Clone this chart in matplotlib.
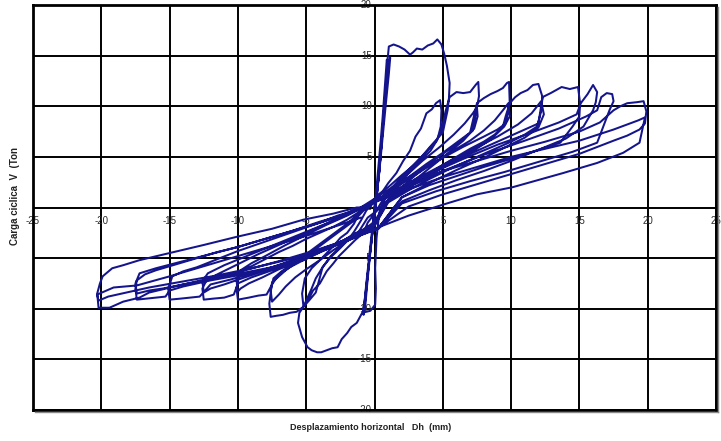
import matplotlib
matplotlib.use("Agg")
import matplotlib.pyplot as plt
from matplotlib.lines import Line2D

plt.rcParams['font.family'] = ['Liberation Sans', 'DejaVu Sans']

# ---- data (displacement mm, cyclic load Ton) ----
c00_x = [0.0, 0.15, 0.3, 0.45, 0.6, 0.75, 0.9, 1.0, 0.85, 0.7, 0.5, 0.3, 0.1, -0.15, -0.35, -0.55, -0.7, -0.85, -0.75, -0.6, -0.4, -0.2, 0.0]
c00_y = [0.0, 2.0, 4.2, 6.5, 9.0, 11.8, 14.6, 14.1, 12.0, 9.5, 6.0, 3.0, 0.2, -2.5, -4.8, -7.2, -9.0, -10.4, -9.6, -7.5, -5.0, -2.6, 0.0]

c01_x = [0.2, 0.4, 0.6, 0.8, 1.0, 1.15, 1.05, 0.85, 0.6, 0.35, 0.05, -0.2, -0.45, -0.65, -0.8, -0.7, -0.55, -0.35, -0.1]
c01_y = [1.5, 4.5, 8.0, 11.5, 14.2, 14.8, 13.2, 10.5, 7.0, 3.5, 0.0, -3.0, -6.0, -8.8, -10.6, -10.1, -7.8, -5.0, -1.8]

c02_x = [0.1, 0.35, 0.55, 0.7, 0.85, 0.95, 1.05, 1.4, 1.8, 2.2, 2.6, 2.8, 3.1, 3.5, 3.9, 4.3, 4.6, 4.9, 5.1, 5.3, 5.5,
         5.45, 5.35, 5.0, 4.2, 3.5, 2.7, 2.0, 1.3, 0.8, 0.35, 0.15, 0.05, 0.1, 0.05, -0.3, -0.9, -1.3, -1.7, -2.0, -2.4,
         -2.7, -3.1, -3.5, -3.9, -4.2, -4.6, -4.9, -5.3, -5.6, -5.5, -5.2, -4.8, -4.3, -3.8, -3.2, -2.6, -2.0, -1.5, -1.0, -0.6]
c02_y = [1.0, 3.5, 7.0, 9.5, 12.0, 14.5, 15.9, 16.1, 15.9, 15.6, 15.1, 15.3, 15.7, 15.6, 16.0, 16.2, 16.6, 16.1, 15.2, 14.0, 12.3,
         10.8, 9.6, 7.4, 6.2, 5.1, 4.0, 3.0, 2.0, 1.0, -0.5, -3.0, -6.0, -8.0, -9.6, -10.2, -10.4, -11.4, -11.8, -12.4, -13.0,
         -13.8, -13.9, -14.1, -14.3, -14.3, -14.1, -13.8, -12.8, -11.4, -10.4, -9.8, -9.2, -8.4, -5.9, -4.8, -4.0, -3.3, -2.4, -1.3, -0.3]

c03_x = [0.0, 0.5, 1.0, 1.6, 2.1, 2.6, 3.0, 3.4, 3.8, 4.2, 4.5, 4.8, 4.9, 4.85, 4.6, 4.1, 3.5, 2.8, 2.0, 1.2, 0.5, 0.0,
         -0.5, -0.8, -1.4, -2.0, -2.6, -3.0, -3.5, -4.0, -4.5, -4.8, -5.2, -5.3, -5.1, -4.6, -4.0, -3.5, -3.0, -2.5, -2.0, -1.5, -1.0]
c03_y = [0.6, 1.4, 2.4, 3.4, 4.6, 5.6, 7.0, 7.8, 9.3, 9.7, 10.3, 10.6, 9.6, 8.0, 6.7, 5.6, 4.8, 3.8, 2.8, 1.6, 0.5, -0.6,
         -1.5, -2.5, -3.2, -4.0, -4.8, -5.5, -6.3, -7.5, -8.2, -9.0, -9.8, -8.5, -7.0, -6.0, -5.2, -4.5, -3.8, -3.0, -2.5, -1.6, -0.2]

c04_x = [-0.5, 0.3, 1.0, 2.0, 3.0, 4.0, 4.5, 4.9, 5.2, 5.5, 6.0, 6.5, 7.0, 7.4, 7.6, 7.65, 7.5, 7.2, 6.6, 6.0, 5.0,
         4.0, 3.0, 2.0, 1.0, 0.2, -0.5, -1.3, -2.0, -2.5, -3.2, -3.8, -4.3, -4.6, -5.2, -5.7, -6.2, -6.7, -7.2, -7.6,
         -7.7, -7.6, -7.5, -7.0, -6.5, -5.8, -5.0, -4.0, -3.0, -2.2, -1.5, -0.8]
c04_y = [0.0, 1.3, 2.0, 3.2, 4.3, 5.8, 6.5, 7.6, 9.5, 10.9, 11.4, 11.3, 11.4, 12.1, 12.4, 11.0, 9.9, 7.6, 6.9, 6.2, 5.3,
         4.3, 3.2, 2.0, 0.8, -0.3, -1.0, -2.7, -3.3, -4.0, -4.9, -5.9, -7.0, -8.0, -9.8, -10.3, -10.4, -10.6, -10.7, -10.8,
         -9.5, -8.4, -7.4, -6.8, -6.2, -5.5, -4.7, -3.8, -2.8, -2.0, -1.3, -0.3]

c05_x = [-0.3, 1.0, 2.2, 3.5, 4.8, 5.8, 6.6, 7.2, 7.5, 7.55, 7.3, 6.5, 5.5, 4.5, 3.3, 2.0, 0.8, 0.0, -1.0, -2.0, -3.0,
         -4.0, -5.0, -5.8, -6.5, -7.0, -7.5, -7.6, -7.4, -6.8, -6.0, -5.0, -4.0, -3.0, -2.0, -1.0]
c05_y = [0.2, 1.5, 3.0, 4.6, 6.0, 7.2, 8.3, 9.3, 9.9, 9.0, 7.8, 6.6, 5.5, 4.4, 3.1, 1.8, 0.4, -1.4, -2.4, -3.3, -4.2,
         -5.2, -6.1, -6.9, -7.8, -8.6, -9.3, -8.2, -7.0, -6.3, -5.6, -4.6, -3.6, -2.6, -1.6, -0.4]

c06_x = [-0.8, 0.5, 1.5, 2.5, 3.8, 5.0, 6.0, 7.0, 7.5, 8.0, 8.5, 9.0, 9.4, 9.7, 9.85, 9.9, 9.6, 9.4, 8.8, 8.0, 7.0,
         6.0, 5.0, 4.0, 3.0, 2.0, 1.0, 0.0, -1.3, -2.2, -3.0, -4.2, -5.2, -6.2, -7.0, -7.5, -7.9, -8.5, -9.2, -9.6, -10.0,
         -10.1, -10.0, -9.8, -9.4, -9.0, -8.0, -7.0, -6.0, -5.0, -4.0, -3.0, -2.0, -1.2]
c06_y = [0.0, 1.0, 2.0, 3.0, 4.3, 5.4, 6.4, 7.4, 10.3, 10.8, 11.2, 11.5, 11.8, 12.3, 12.4, 10.3, 9.0, 8.0, 7.2, 6.5, 5.8,
         5.0, 4.2, 3.3, 2.4, 1.5, 0.6, -1.6, -2.5, -3.2, -3.8, -4.5, -5.2, -5.9, -6.6, -7.6, -8.6, -8.7, -8.9, -9.0, -9.1,
         -8.0, -7.2, -6.4, -6.0, -5.8, -5.1, -4.4, -3.8, -3.1, -2.5, -1.9, -1.2, -0.5]

c07_x = [-0.8, 1.0, 2.5, 4.0, 5.5, 7.0, 8.0, 8.8, 9.4, 9.8, 9.9, 9.5, 8.5, 7.0, 5.5, 4.0, 2.5, 1.0, 0.0, -1.0, -2.5,
         -4.0, -5.5, -7.0, -8.2, -9.2, -9.8, -10.0, -10.1, -9.8, -9.0, -8.0, -6.5, -5.0, -3.5, -2.0, -1.0]
c07_y = [0.0, 1.4, 2.8, 4.1, 5.4, 6.6, 7.6, 8.6, 9.6, 10.3, 9.0, 8.0, 6.7, 5.4, 4.3, 3.2, 2.0, 0.7, -1.8, -2.5, -3.4,
         -4.4, -5.3, -6.1, -6.9, -7.5, -8.0, -8.3, -7.2, -6.2, -5.5, -4.8, -3.7, -2.7, -1.7, -0.8, -0.1]

c08_x = [-1.0, 0.5, 2.0, 3.5, 5.0, 6.5, 8.0, 9.0, 9.6, 9.9, 10.3, 10.7, 11.2, 11.6, 12.0, 12.3, 12.2, 11.9, 11.0, 10.0, 8.5,
         7.0, 5.5, 4.0, 2.5, 1.0, 0.0, -1.5, -3.0, -4.5, -6.0, -7.5, -9.0, -10.0, -10.3, -11.0, -11.8, -12.5, -12.6, -12.3,
         -11.5, -10.0, -8.5, -7.0, -5.5, -4.0, -2.5, -1.2]
c08_y = [0.0, 1.3, 2.6, 3.8, 4.9, 6.0, 7.0, 7.7, 8.3, 10.3, 10.9, 11.3, 11.6, 12.1, 12.2, 10.9, 9.5, 8.0, 7.2, 6.5, 5.6,
         4.7, 3.8, 2.8, 1.7, 0.5, -1.8, -2.8, -3.7, -4.6, -5.4, -6.2, -6.9, -7.5, -8.6, -8.9, -9.0, -9.1, -8.0, -7.2,
         -6.6, -5.6, -4.6, -3.7, -2.8, -1.9, -1.0, -0.2]

c09_x = [-1.0, 1.0, 3.0, 5.0, 7.0, 9.0, 10.5, 11.5, 12.2, 12.4, 12.0, 11.0, 9.5, 8.0, 6.0, 4.0, 2.0, 0.3, -1.5, -3.5, -5.5,
         -7.5, -9.5, -11.0, -12.0, -12.5, -12.6, -12.2, -11.0, -9.0, -7.0, -5.0, -3.0, -1.2]
c09_y = [0.0, 1.3, 2.8, 4.2, 5.6, 7.0, 8.2, 9.3, 10.5, 9.2, 7.9, 6.9, 5.9, 4.9, 3.7, 2.4, 1.0, -2.0, -2.9, -3.9, -5.0,
         -6.0, -6.9, -7.6, -8.0, -8.4, -7.3, -6.5, -5.7, -4.6, -3.5, -2.4, -1.3, -0.2]

c10_x = [-1.0, 1.0, 3.0, 5.0, 7.0, 9.0, 11.0, 12.0, 12.3, 12.9, 13.7, 14.3, 14.9, 15.05, 15.0, 14.5, 13.6, 12.0, 10.0, 8.0, 6.0,
         4.0, 2.0, 0.3, -1.5, -3.0, -4.5, -6.0, -7.5, -9.0, -10.5, -12.0, -12.8, -13.5, -14.2, -15.0, -15.1, -14.8, -14.0,
         -13.0, -11.5, -10.0, -8.5, -7.0, -5.5, -4.0, -2.7, -1.2]
c10_y = [0.0, 1.2, 2.6, 4.0, 5.3, 6.5, 7.7, 8.3, 10.9, 11.3, 11.9, 11.7, 11.9, 10.3, 9.0, 8.0, 6.4, 5.7, 4.8, 4.0, 3.1,
         2.2, 1.0, -2.0, -2.9, -3.7, -4.5, -5.2, -5.9, -6.5, -7.1, -7.6, -8.8, -8.9, -9.0, -9.1, -8.0, -6.8, -6.3,
         -5.9, -5.1, -4.3, -3.6, -2.9, -2.2, -1.5, -0.8, -0.2]

c11_x = [-1.0, 1.5, 4.0, 6.5, 9.0, 11.5, 13.5, 14.8, 15.1, 15.6, 16.0, 16.3, 16.2, 16.0, 15.3, 14.0, 12.0, 10.0, 8.0, 6.0, 4.0,
         2.0, 0.3, -2.0, -4.0, -6.0, -8.0, -10.0, -12.0, -14.0, -15.0, -15.3, -16.0, -16.7, -17.4, -17.5, -17.4, -16.8,
         -16.0, -14.5, -13.0, -11.5, -10.0, -8.0, -6.0, -4.0, -2.5, -1.2]
c11_y = [0.0, 1.6, 3.3, 4.8, 6.2, 7.4, 8.4, 9.2, 10.3, 11.2, 12.1, 11.4, 10.4, 9.6, 8.0, 6.8, 5.7, 4.6, 3.6, 2.7, 1.7,
         0.6, -2.0, -3.3, -4.4, -5.3, -6.1, -6.7, -7.2, -7.8, -8.2, -8.8, -8.9, -9.0, -9.1, -8.0, -7.2, -6.6,
         -6.2, -5.6, -5.0, -4.4, -3.9, -3.1, -2.3, -1.4, -0.8, -0.1]

c12_x = [-1.0, 2.0, 5.0, 8.0, 11.0, 13.5, 15.5, 16.3, 16.6, 17.0, 17.4, 17.5, 17.2, 16.3, 14.5, 12.0, 9.5, 7.0, 4.5, 2.0, 0.3,
         -2.0, -4.5, -7.0, -9.5, -12.0, -14.0, -15.5, -16.5, -17.4, -17.5, -17.2, -16.0, -14.0, -12.0, -10.0, -8.0,
         -6.0, -4.0, -2.0, -1.0]
c12_y = [0.0, 1.7, 3.6, 5.2, 6.6, 7.8, 9.0, 9.6, 10.9, 11.3, 11.2, 10.5, 9.6, 6.4, 5.5, 4.5, 3.5, 2.6, 1.6, 0.4, -2.1,
         -3.2, -4.3, -5.3, -6.2, -7.0, -7.6, -8.0, -8.2, -8.5, -7.5, -6.5, -6.0, -5.3, -4.6, -3.9, -3.1,
         -2.3, -1.5, -0.7, -0.1]

c13_x = [-1.0, 2.5, 5.0, 7.5, 10.0, 12.5, 15.0, 16.5, 17.5, 18.0, 18.5, 19.2, 19.7, 19.9, 19.8, 19.4, 18.5, 17.5, 15.0, 12.5,
         10.0, 7.5, 5.0, 2.5, 0.3, -1.3, -3.0, -5.2, -7.5, -9.8, -12.0, -14.0, -16.5, -17.2, -18.4, -19.4, -20.2, -20.3,
         -20.1, -19.9, -19.2, -18.4, -17.2, -15.0, -12.5, -10.1, -7.5, -5.2, -3.0, -1.3]
c13_y = [0.0, 2.3, 3.6, 4.6, 5.6, 6.5, 7.5, 8.4, 9.6, 10.0, 10.3, 10.4, 10.5, 9.5, 8.3, 7.7, 7.1, 6.6, 5.3, 4.3,
         3.3, 2.3, 1.3, 0.1, -2.0, -2.5, -3.8, -5.2, -5.9, -6.5, -7.1, -7.6, -8.4, -8.9, -9.3, -9.9, -9.9, -8.5,
         -7.5, -6.8, -6.0, -5.7, -5.2, -4.5, -3.7, -2.9, -2.1, -1.2, -0.6, 0.0]

c14_x = [-1.0, 2.5, 5.0, 7.5, 10.0, 12.5, 15.0, 17.5, 18.5, 19.3, 19.8, 19.4, 18.2, 16.3, 13.8, 10.1, 7.5, 5.3, 2.5, 0.4,
         -1.5, -4.0, -6.5, -9.0, -11.5, -14.0, -16.5, -18.5, -19.5, -20.2, -20.3, -19.1, -17.4, -15.0, -12.5, -10.0,
         -7.5, -5.0, -2.5, -1.0]
c14_y = [0.0, 1.8, 3.0, 4.0, 5.0, 5.8, 6.6, 7.7, 8.2, 8.6, 8.9, 6.4, 5.4, 4.4, 3.4, 2.0, 1.3, 0.4, -0.8, -1.9,
         -3.0, -4.2, -5.2, -6.0, -6.7, -7.3, -7.9, -8.5, -8.8, -9.2, -8.6, -7.9, -7.7, -6.8, -5.8, -4.8,
         -3.8, -2.8, -1.7, -1.0]

x_ticks = [-25, -20, -15, -10, -5, 0, 5, 10, 15, 20, 25]
y_ticks = [-20, -15, -10, -5, 0, 5, 10, 15, 20]
x_label = "Desplazamiento horizontal   Dh  (mm)"
y_label = "Carga ciclica  V  (Ton"

cycles_x = [c00_x, c01_x, c02_x, c03_x, c04_x, c05_x, c06_x, c07_x, c08_x, c09_x, c10_x, c11_x, c12_x, c13_x, c14_x]
cycles_y = [c00_y, c01_y, c02_y, c03_y, c04_y, c05_y, c06_y, c07_y, c08_y, c09_y, c10_y, c11_y, c12_y, c13_y, c14_y]
xs, ys = [], []
for cx, cy in zip(cycles_x, cycles_y):
    xs.extend(cx)
    ys.extend(cy)

# ---- figure ----
fig = plt.figure(figsize=(7.21, 4.41), dpi=100)
ax = fig.add_axes([33 / 721, 1 - 410 / 441, 683 / 721, 405 / 441])
ax.set_xlim(-25, 25)
ax.set_ylim(-20, 20)

for v in x_ticks:
    ax.axvline(v, color='black', lw=1.4, zorder=1)
for v in y_ticks:
    ax.axhline(v, color='black', lw=1.4, zorder=1)

ax.plot(xs, ys, color='#14148c', lw=1.45, zorder=3, solid_joinstyle='round')

ax.set_xticks([])
ax.set_yticks([])
for s in ax.spines.values():
    s.set_linewidth(2.0)
    s.set_color('black')

# faint shadow along bottom and right edges of the plot frame
fig.add_artist(Line2D([35 / 721, 718 / 721], [1 - 412 / 441, 1 - 412 / 441],
                      color='#8a8a8a', lw=1.0, transform=fig.transFigure))
fig.add_artist(Line2D([718 / 721, 718 / 721], [1 - 412 / 441, 1 - 7 / 441],
                      color='#8a8a8a', lw=1.0, transform=fig.transFigure))

tick_color = '#2a2a2a'
for v in x_ticks:
    ax.annotate(str(v), xy=(v, 0), xytext=(0, -10), textcoords='offset points',
                ha='center', va='center', fontsize=7, color=tick_color, zorder=2)
for v in y_ticks:
    ax.annotate(str(v), xy=(0, v), xytext=(-2, 0), textcoords='offset points',
                ha='right', va='center', fontsize=7, color=tick_color, zorder=2)

fig.text(371 / 721, 1 - 427 / 441, x_label, ha='center', va='center',
         fontsize=6.5, fontweight='bold', color='#222222')
fig.text(15 / 721, 1 - 196 / 441, y_label, ha='center', va='center', rotation=90,
         fontsize=7, fontweight='bold', color='#222222')

fig.savefig('out.png', dpi=100, facecolor='white')
